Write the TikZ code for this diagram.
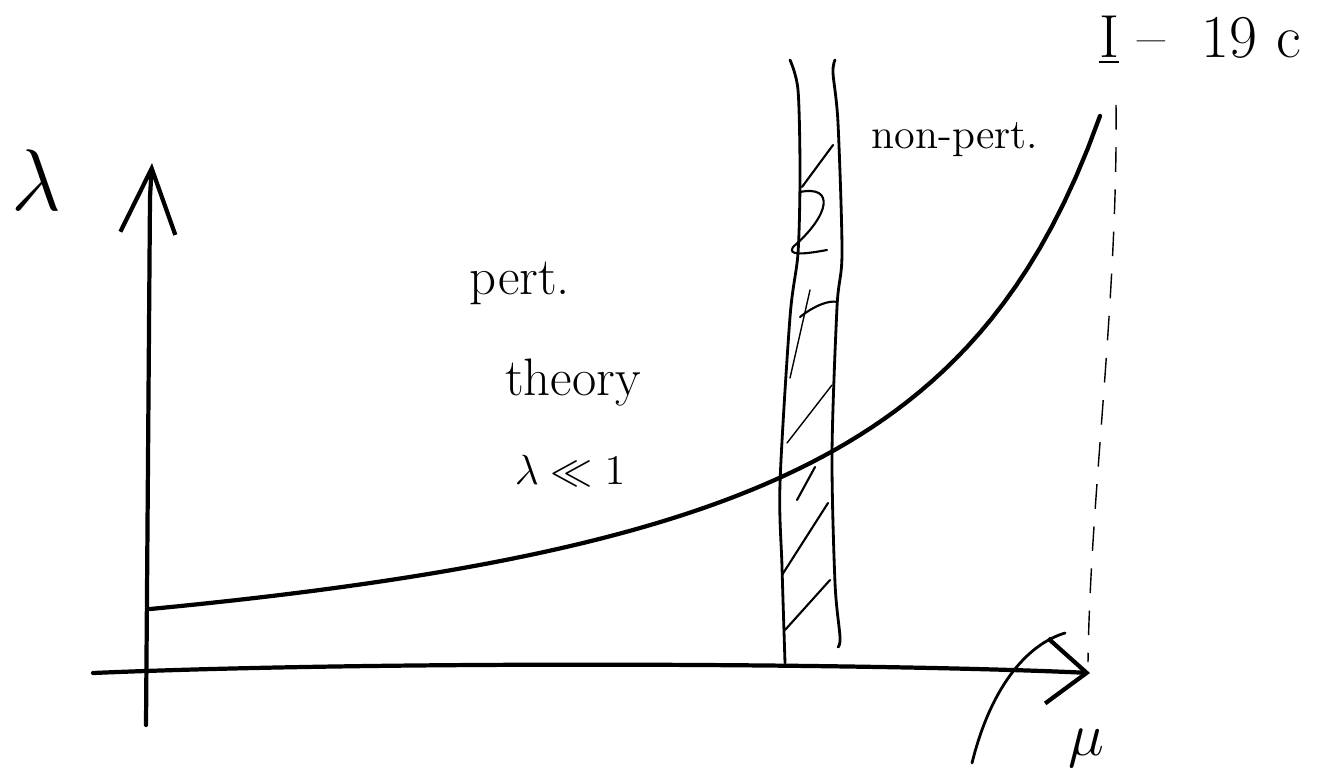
\documentclass[tikz,border=0pt]{standalone}
\usetikzlibrary{
    arrows.meta,   % For arrow tips
    positioning    % For label positioning
}

\begin{document}
\begin{tikzpicture}[
    x=0.01cm, y=-0.01cm, % one unit = one pixel of the sketch
    >={Straight Barb[length=4mm, width=6.5mm]}, % open arrow tip
    axis/.style={->, very thick, line cap=round}, % Style for axes
    curve/.style={very thick, line cap=round},    % coupling curve
    wall/.style={thick, line cap=round},          % walls of the band
    hatch/.style={semithick, line cap=round},     % hatching strokes
    cut/.style={thin, dash pattern=on 7pt off 5pt},
    labelstyle/.style={font=\fontsize{15}{18}\selectfont}]

    % Frame of the sketch
    \useasboundingbox (0,0) rectangle (1334,782);

    % Axes
    \coordinate (ybot) at (146,725);
    \coordinate (ytop) at (152,163);
    \coordinate (xleft) at (93,673);
    \coordinate (xright) at (1090,673);
    \draw[axis, -{Straight Barb[length=6.5mm, width=5.5mm]}] (ybot) -- (150,197) -- (ytop);
    \draw[axis] (xleft) .. controls (400,660) and (900,664) .. (xright);
    \node[font=\Huge] (lam) at (36,180) {$\lambda$};
    \node[font=\LARGE] (mu) at (1086,748) {$\mu$};
    \draw[wall] (972,763) .. controls (990,690) and (1025,645) .. (1065,633);

    % Running coupling, pole beyond the dashed line
    \draw[curve] plot [domain=150:1100, samples=80]
        (\x, {720.6 - 1300/((1315-\x)/100)});

    % Hatched band
    \draw[wall] plot [smooth] coordinates {
        (790,60) (798,90) (800,173) (798,253) (790,317)
        (780,483) (782,567) (785,663)};
    \draw[wall] plot [smooth] coordinates {
        (835,60) (833,73) (838,123) (842,253) (837,307)
        (832,453) (835,583) (840,637) (838,647)};
    \draw[hatch] (802,187) -- (833,145);
    \draw[hatch] (800,192) .. controls (835,185) and (830,215) .. (793,247)
        .. controls (788,255) and (800,255) .. (827,250);
    \draw[hatch, thin] (790,378) -- (810,290);
    \draw[hatch] (800,317) .. controls (815,305) and (830,300) .. (837,302);
    \draw[hatch, thin] (787,443) -- (832,385);
    \draw[hatch] (797,500) -- (815,467);
    \draw[hatch] (782,575) -- (828,503);
    \draw[hatch] (785,630) -- (830,580);

    % Limit line
    \draw[cut] (1116,105) .. controls (1118,300) and (1090,500) .. (1088,662);

    % Region labels
    \node[labelstyle] (pert) at (520,283) {pert.};
    \node[labelstyle] (theory) at (573,383) {theory};
    \node[font=\large] (weak) at (570,471) {$\lambda\ll 1$};
    \node[font=\large] (nonpert) at (955,140) {non-pert.};

    % Page mark
    \node[font=\LARGE] (mark) at (1200,40) {\underline{I}\ --\ \ 19\ c};

\end{tikzpicture}
\end{document}
